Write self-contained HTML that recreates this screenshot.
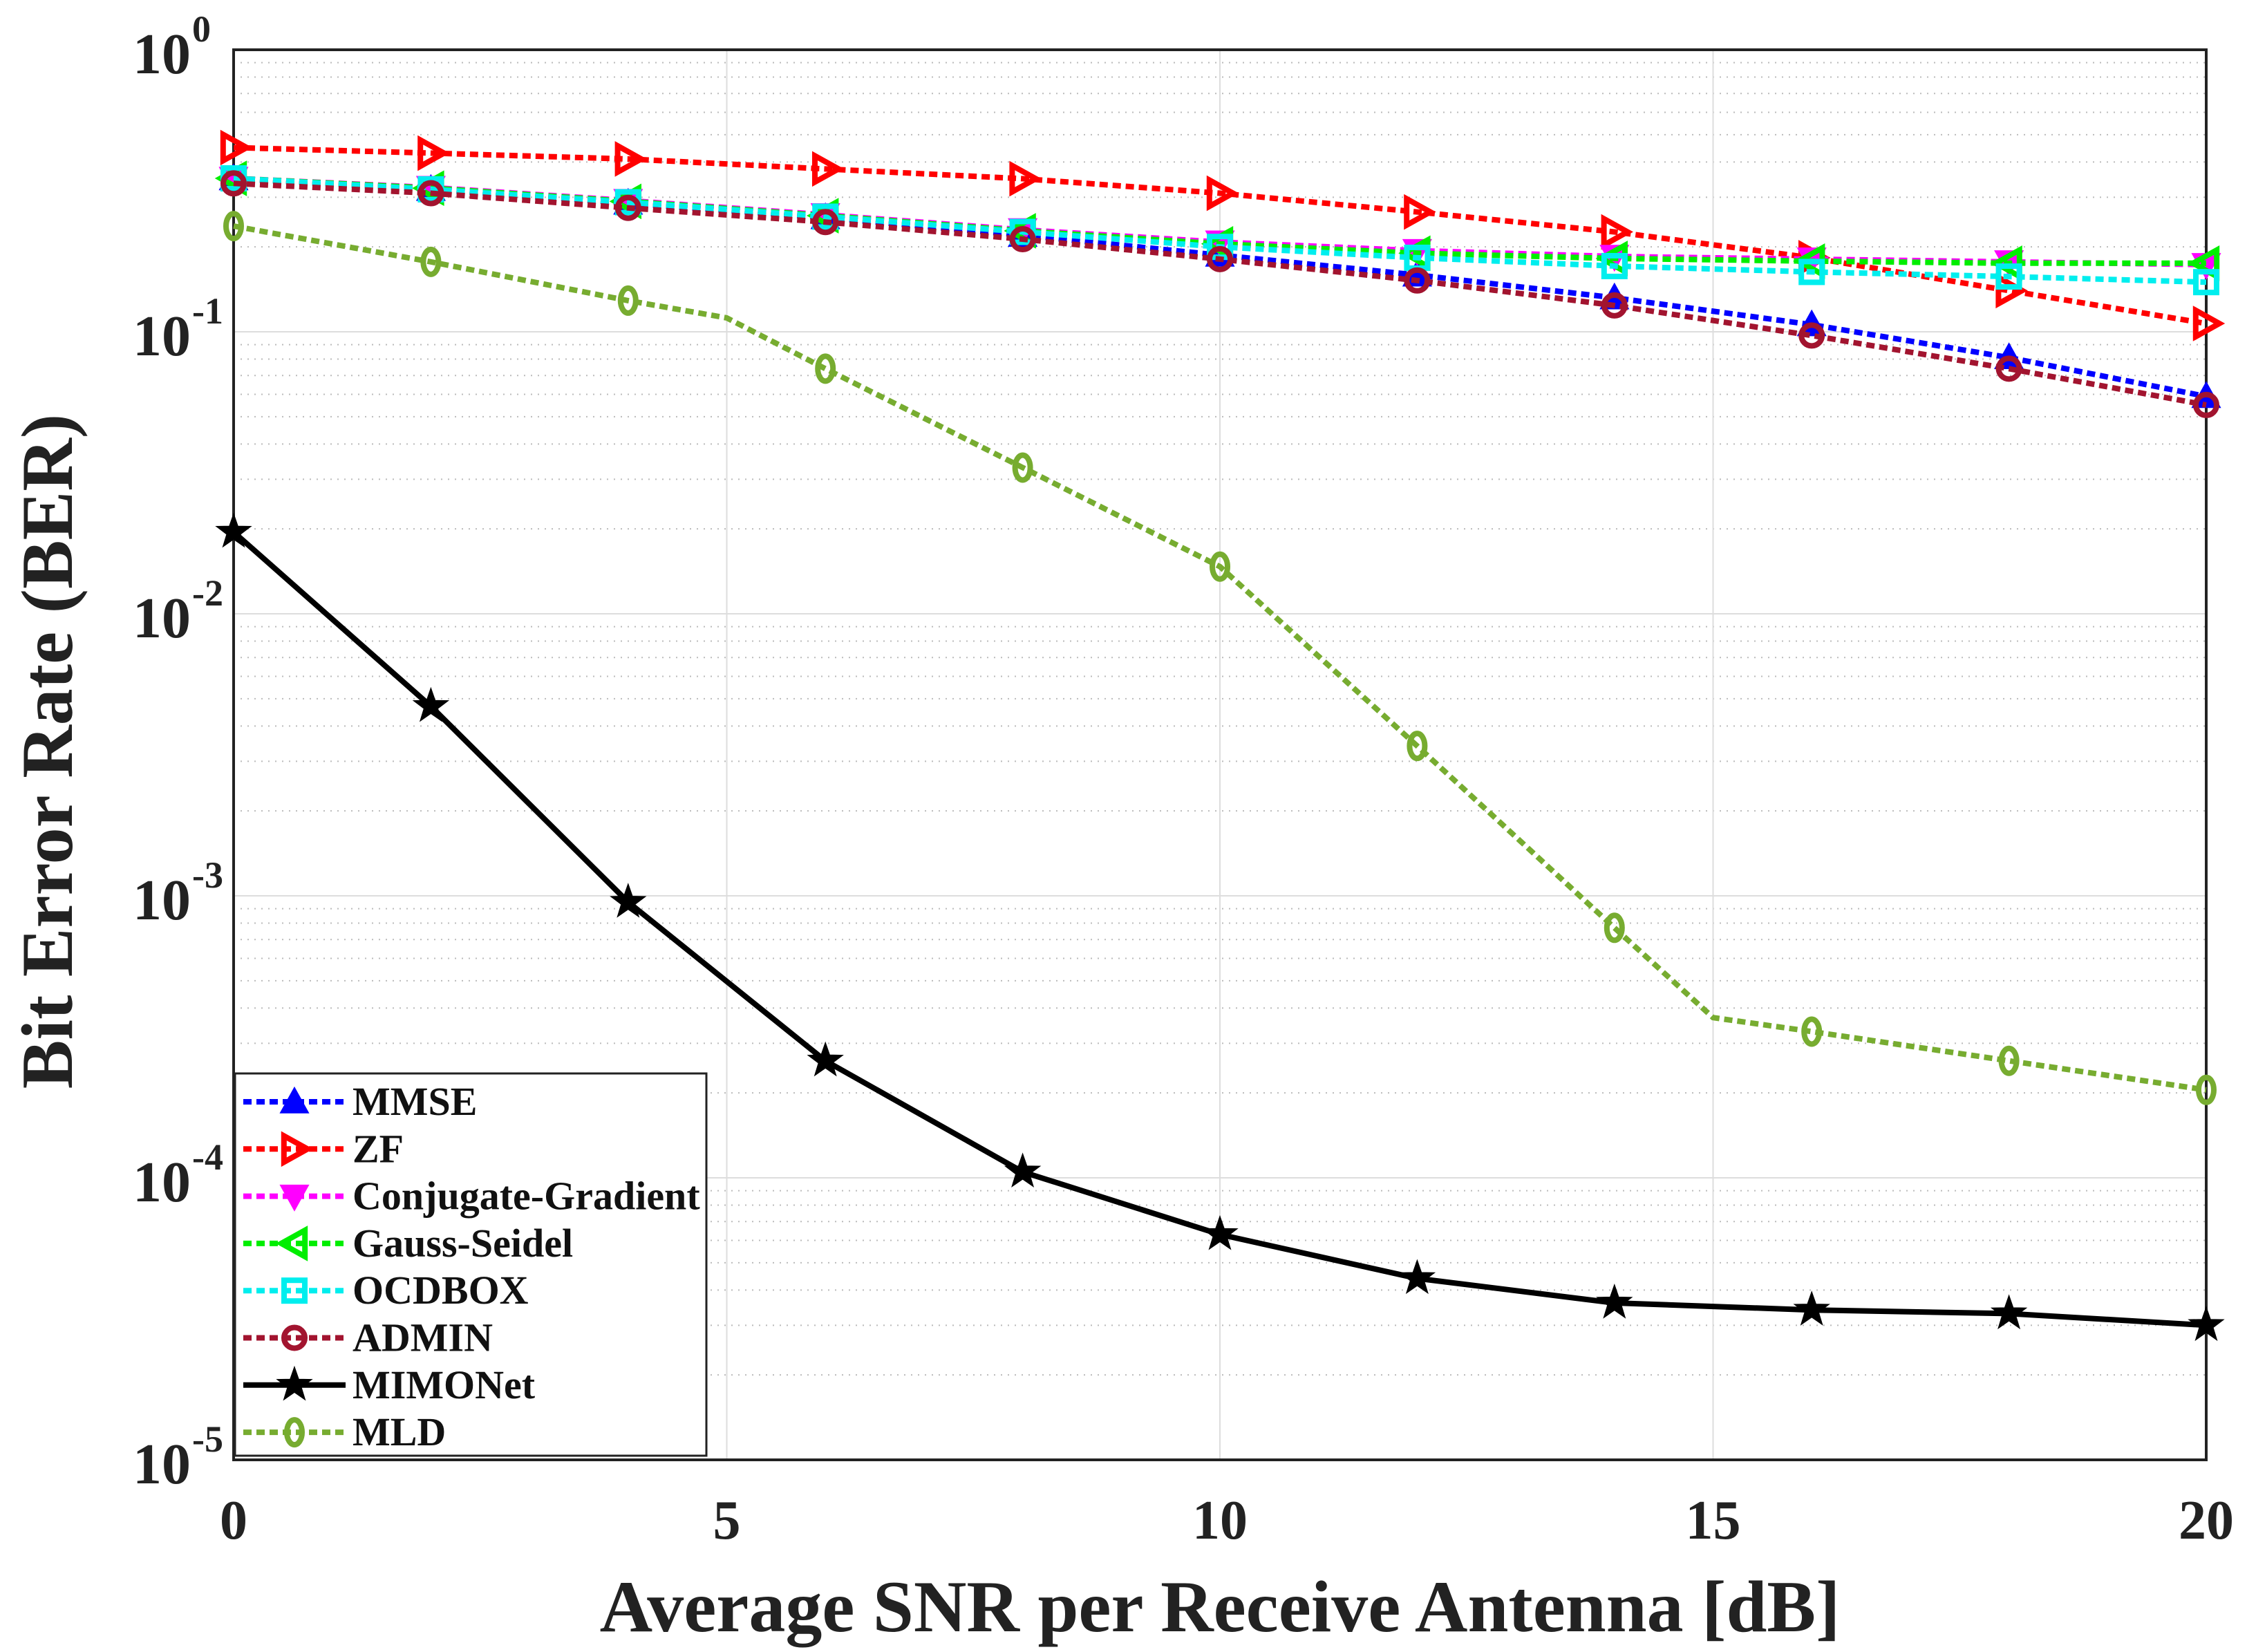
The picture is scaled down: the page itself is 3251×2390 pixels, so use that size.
<!DOCTYPE html>
<html><head><meta charset="utf-8"><style>
html,body{margin:0;padding:0;background:#fff;}
svg{display:block;font-family:"Liberation Serif",serif;font-weight:bold;}
</style></head><body>
<svg id="chart" width="3251" height="2390" viewBox="0 0 3251 2390" xmlns="http://www.w3.org/2000/svg"></svg>
<script>
const snrEven=[0,2,4,6,8,10,12,14,16,18,20];
const mmse=[0.349,0.32,0.286,0.254,0.22,0.187,0.159,0.132,0.106,0.081,0.059];
const zf=[0.45,0.43,0.41,0.378,0.349,0.31,0.266,0.226,0.183,0.14,0.107];
const cg=[0.35,0.325,0.292,0.26,0.23,0.208,0.194,0.185,0.181,0.177,0.173];
const gs=[0.35,0.323,0.29,0.258,0.228,0.205,0.19,0.182,0.178,0.175,0.175];
const ocd=[0.35,0.32,0.288,0.256,0.226,0.2,0.183,0.171,0.163,0.157,0.15];
const admin=[0.336,0.31,0.275,0.245,0.213,0.181,0.152,0.124,0.097,0.074,0.055];
const mimoX=[0,2,4,6,8,10,12,14,16,18,20];
const mimo=[0.0195,0.0047,0.00095,0.00026,0.000105,0.000063,0.000044,0.000036,0.000034,0.000033,0.00003];
const mldX=[0,2,4,5,6,8,10,12,14,15,16,18,20];
const mld=[0.237,0.177,0.129,0.112,0.074,0.033,0.0147,0.0034,0.00077,0.00037,0.00033,0.00026,0.000205];
const xTicks=[0,5,10,15,20];
const yExps=[0,-1,-2,-3,-4,-5];

const L=338,R=3192,T=72,B=2112;
const X=v=>L+(v/20)*(R-L);
const Y=v=>T+(-Math.log10(v))/5*(B-T);
const NS="http://www.w3.org/2000/svg";
const svg=document.getElementById('chart');
function el(tag,attrs,parent){const e=document.createElementNS(NS,tag);for(const k in attrs)e.setAttribute(k,attrs[k]);(parent||svg).appendChild(e);return e;}

const grid=el('g',{});


for(let d=0;d<5;d++){for(let m=2;m<=9;m++){const y=Y(Math.pow(10,-d-1)*m);el('line',{x1:L,x2:R,y1:y,y2:y,stroke:'#bbb','stroke-width':2,'stroke-dasharray':'2,8'},grid);}}
yExps.forEach(e=>{const y=Y(Math.pow(10,e));el('line',{x1:L,x2:R,y1:y,y2:y,stroke:'#ddd','stroke-width':2},grid);});
xTicks.forEach(t=>{el('line',{x1:X(t),x2:X(t),y1:T,y2:B,stroke:'#ddd','stroke-width':2},grid);});

const axes=el('g',{});


el('rect',{x:L,y:T,width:R-L,height:B-T,fill:'none',stroke:'#222','stroke-width':4},axes);
xTicks.forEach(t=>{
 const tx=el('text',{x:X(t),y:2226,'font-size':80,'text-anchor':'middle',fill:'#222'},axes);
 tx.textContent=t;
 
 
});
yExps.forEach(e=>{
 const y=Y(Math.pow(10,e));
 const tx=el('text',{x:276,y:y+34,'font-size':84,'text-anchor':'end',fill:'#222'},axes);
 tx.textContent='10';
 
 
 const sp=el('text',{x:278,y:y-12,'font-size':54,'text-anchor':'start',fill:'#222'},axes);
 sp.textContent=String(e);
 
 
});
const xt=el('text',{x:1765,y:2360,'font-size':106,'text-anchor':'middle',fill:'#222'});
xt.textContent='Average SNR per Receive Antenna [dB]';


const yt=el('text',{x:0,y:0,'font-size':106,'text-anchor':'middle',fill:'#222',transform:'translate(104,1087) rotate(-90)'});
yt.textContent='Bit Error Rate (BER)';



function marker(g,type,cx,cy,color){
 const s=19;
 if(type==='up')el('polygon',{points:`${cx},${cy-s} ${cx-s},${cy+s*0.8} ${cx+s},${cy+s*0.8}`,fill:color,stroke:color,'stroke-width':3},g);
 else if(type==='right')el('polygon',{points:`${cx+s},${cy} ${cx-s*0.8},${cy-s} ${cx-s*0.8},${cy+s}`,fill:'none',stroke:color,'stroke-width':8},g);
 else if(type==='down')el('polygon',{points:`${cx},${cy+s} ${cx-s},${cy-s*0.8} ${cx+s},${cy-s*0.8}`,fill:color,stroke:color,'stroke-width':3},g);
 else if(type==='left')el('polygon',{points:`${cx-s},${cy} ${cx+s*0.8},${cy-s} ${cx+s*0.8},${cy+s}`,fill:'none',stroke:color,'stroke-width':8},g);
 else if(type==='square')el('rect',{x:cx-15,y:cy-15,width:30,height:30,fill:'none',stroke:color,'stroke-width':8},g);
 else if(type==='circle')el('circle',{cx:cx,cy:cy,r:15,fill:'none',stroke:color,'stroke-width':8},g);
 else if(type==='ellipse')el('ellipse',{cx:cx,cy:cy,rx:11,ry:18,fill:'none',stroke:color,'stroke-width':8},g);
 else if(type==='star'){let p=[];for(let i=0;i<10;i++){const r=i%2?10:25;const a=-Math.PI/2+i*Math.PI/5;p.push((cx+r*Math.cos(a)).toFixed(1)+','+(cy+r*Math.sin(a)).toFixed(1));}el('polygon',{points:p.join(' '),fill:'#000',stroke:'#000','stroke-width':2},g);}
}
const series=[
 {name:'MMSE',xs:snrEven,ys:mmse,color:'#0000ff',m:'up',dash:'12,7',id:'series-mmse'},
 {name:'ZF',xs:snrEven,ys:zf,color:'#ff0000',m:'right',dash:'12,7',id:'series-zf'},
 {name:'Conjugate-Gradient',xs:snrEven,ys:cg,color:'#ff00ff',m:'down',dash:'12,7',id:'series-conjugate-gradient'},
 {name:'Gauss-Seidel',xs:snrEven,ys:gs,color:'#00ee00',m:'left',dash:'12,7',id:'series-gauss-seidel'},
 {name:'OCDBOX',xs:snrEven,ys:ocd,color:'#00eeee',m:'square',dash:'12,7',id:'series-ocdbox'},
 {name:'ADMIN',xs:snrEven,ys:admin,color:'#a2142f',m:'circle',dash:'12,7',id:'series-admin'},
 {name:'MIMONet',xs:mimoX,ys:mimo,color:'#000000',m:'star',dash:null,id:'series-mimonet'},
 {name:'MLD',xs:mldX,ys:mld,color:'#77ac30',m:'ellipse',dash:'12,7',id:'series-mld'}
];
series.forEach(s=>{
 const g=el('g',{});
 
 
 const pts=s.xs.map((x,i)=>X(x).toFixed(1)+','+Y(s.ys[i]).toFixed(1)).join(' ');
 const a={points:pts,fill:'none',stroke:s.color,'stroke-width':8};
 if(s.dash)a['stroke-dasharray']=s.dash;
 el('polyline',a,g);
 s.xs.forEach((x,i)=>{if(x%2===0)marker(g,s.m,X(x),Y(s.ys[i]),s.color);});
});

const lg=el('g',{});


el('rect',{x:340,y:1553,width:682,height:553,fill:'#fff',stroke:'#222','stroke-width':3},lg);
series.forEach((s,i)=>{
 const y=1594+68.3*i;
 const e=el('g',{},lg);
 
 
 const a={x1:352,x2:500,y1:y,y2:y,stroke:s.color,'stroke-width':8};
 if(s.dash)a['stroke-dasharray']=s.dash;
 el('line',a,e);
 marker(e,s.m,426,y,s.color);
 const t=el('text',{x:510,y:y+19,'font-size':58,fill:'#111'},e);
 t.textContent=s.name;
});
</script>
</body></html>
